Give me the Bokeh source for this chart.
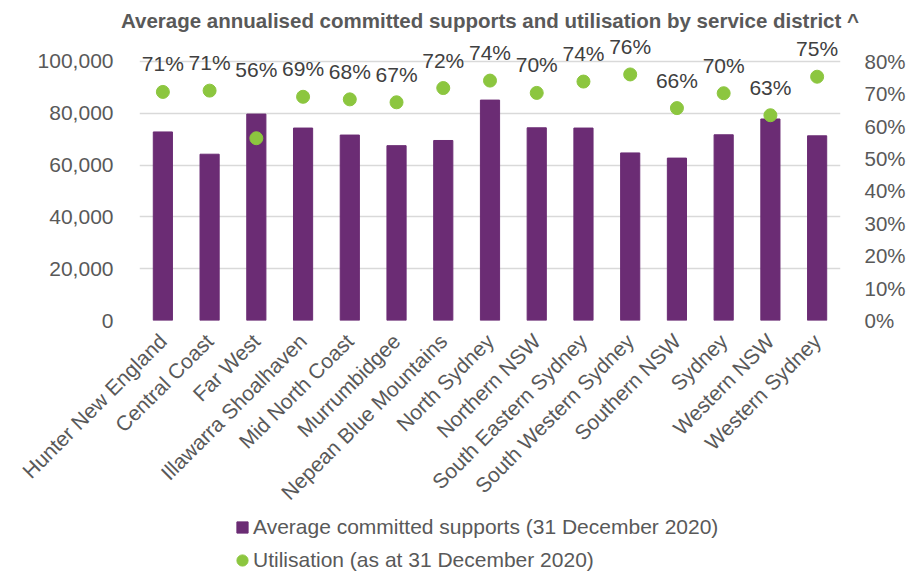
from bokeh.plotting import figure
from bokeh.layouts import column
from bokeh.models import (ColumnDataSource, FactorRange, Range1d, LinearAxis, FixedTicker,
                          NumeralTickFormatter, Legend, LegendItem)
from bokeh.core.properties import value
from bokeh.embed import file_html
from bokeh.resources import INLINE
import math

districts = ["Hunter New England", "Central Coast", "Far West", "Illawarra Shoalhaven",
             "Mid North Coast", "Murrumbidgee", "Nepean Blue Mountains", "North Sydney",
             "Northern NSW", "South Eastern Sydney", "South Western Sydney", "Southern NSW",
             "Sydney", "Western NSW", "Western Sydney"]
committed_supports = [72800, 64200, 79700, 74300, 71600, 67500, 69500, 85100,
                      74400, 74300, 64700, 62700, 71700, 77800, 71300]
utilisation = [0.706, 0.710, 0.563, 0.691, 0.683, 0.674, 0.718, 0.741,
               0.703, 0.738, 0.760, 0.656, 0.702, 0.634, 0.753]
left_ticks = [0, 20000, 40000, 60000, 80000, 100000]
right_ticks = [0.0, 0.1, 0.2, 0.3, 0.4, 0.5, 0.6, 0.7, 0.8]

title_text = "Average annualised committed supports and utilisation by service district ^"
bar_label = "Average committed supports (31 December 2020)"
dot_label = "Utilisation (as at 31 December 2020)"

PURPLE = "#6B2C74"
GREEN = "#8CC63F"
GREY = "#595959"
FONT = "Liberation Sans"
W = 908

LEFT_MAX = left_ticks[-1]
RIGHT_MAX = right_ticks[-1]
HEADROOM = 1.1158          # frame extends above the top gridline so labels stay inside
TOP_L = LEFT_MAX * HEADROOM
TOP_R = RIGHT_MAX * HEADROOM

# label placement: above the dot, or above the bar when the dot sits inside it
anchors, offsets = [], []
for s, u in zip(committed_supports, utilisation):
    bar_in_pct = s / LEFT_MAX * RIGHT_MAX
    if u < bar_in_pct:
        anchors.append(bar_in_pct)
        offsets.append(-45)
    else:
        anchors.append(u)
        offsets.append(-28)

src = ColumnDataSource(dict(
    cat=districts,
    supports=committed_supports,
    util=utilisation,
    anchor=anchors,
    off=offsets,
    lab=[f"{round(u * 100):d}%" for u in utilisation],
))

p = figure(width=W, height=515, x_range=FactorRange(factors=districts),
           y_range=Range1d(0, TOP_L), output_backend="svg", toolbar_location=None,
           min_border_left=139, min_border_right=65, min_border_top=31, min_border_bottom=192)
p.extra_y_ranges = {"pct": Range1d(0, TOP_R)}
p.outline_line_color = None

p.title.text = title_text
p.title.align = "center"
p.title.text_font = FONT
p.title.text_font_size = "20.5px"
p.title.text_font_style = "bold"
p.title.text_color = GREY
p.title.standoff = 0

bars = p.vbar(x="cat", top="supports", width=0.41, source=src,
              fill_color=PURPLE, line_color=PURPLE)
dots = p.ellipse(x="cat", y="util", width=13, height=13, width_units="screen",
                 height_units="screen", source=src, y_range_name="pct",
                 fill_color=GREEN, line_color=GREEN)
p.text(x="cat", y="anchor", text="lab", y_offset="off", source=src, y_range_name="pct",
       text_align="center", text_baseline="middle", text_font=value(FONT),
       text_font_size="21px", text_color="#404040")

# left axis
yl = p.yaxis[0]
yl.ticker = FixedTicker(ticks=left_ticks)
yl.formatter = NumeralTickFormatter(format="0,0")
yl.axis_line_color = None
yl.major_tick_line_color = None
yl.minor_tick_line_color = None
yl.major_label_standoff = 20
yl.major_label_text_font = FONT
yl.major_label_text_font_size = "21px"
yl.major_label_text_color = GREY

# right axis
yr = LinearAxis(y_range_name="pct", ticker=FixedTicker(ticks=right_ticks),
                formatter=NumeralTickFormatter(format="0%"))
yr.axis_line_color = None
yr.major_tick_line_color = None
yr.minor_tick_line_color = None
yr.major_label_standoff = 18
yr.major_label_text_font = FONT
yr.major_label_text_font_size = "20.5px"
yr.major_label_text_color = GREY
p.add_layout(yr, "right")

# category axis
xa = p.xaxis[0]
xa.axis_line_color = None
xa.major_tick_line_color = None
xa.major_label_orientation = math.pi / 4
xa.major_label_standoff = 11
xa.major_label_text_font = FONT
xa.major_label_text_font_size = "21px"
xa.major_label_text_color = GREY

p.xgrid.visible = False
p.ygrid.ticker = FixedTicker(ticks=left_ticks)
p.ygrid.grid_line_color = "#d9d9d9"
p.ygrid.grid_line_width = 1.3

# legend strip: proxy renderers with no drawable points carry the series styles
p2 = figure(width=W, height=57, x_range=FactorRange(factors=districts),
            y_range=Range1d(0, 1), output_backend="svg", toolbar_location=None,
            x_axis_type=None, y_axis_type=None, min_border=0)
p2.outline_line_color = None
p2.grid.visible = False
proxy = ColumnDataSource(dict(cat=[districts[0]], top=[float("nan")], y=[float("nan")]))
lbars = p2.vbar(x="cat", top="top", width=0.41, source=proxy,
                fill_color=PURPLE, line_color=PURPLE)
ldots = p2.ellipse(x="cat", y="y", width=13, height=13, width_units="screen",
                   height_units="screen", source=proxy,
                   fill_color=GREEN, line_color=GREEN)
legend = Legend(items=[LegendItem(label=bar_label, renderers=[lbars]),
                       LegendItem(label=dot_label, renderers=[ldots])],
                location=(96, 0), orientation="vertical",
                glyph_width=14, glyph_height=14, label_height=20,
                spacing=9, label_standoff=4, padding=0, margin=0,
                label_text_font=FONT, label_text_font_size="21px",
                label_text_color=GREY, border_line_color=None,
                background_fill_alpha=0)
p2.add_layout(legend, "center")

layout = column(p, p2, spacing=0)
open("out.html", "w").write(file_html(layout, INLINE))
